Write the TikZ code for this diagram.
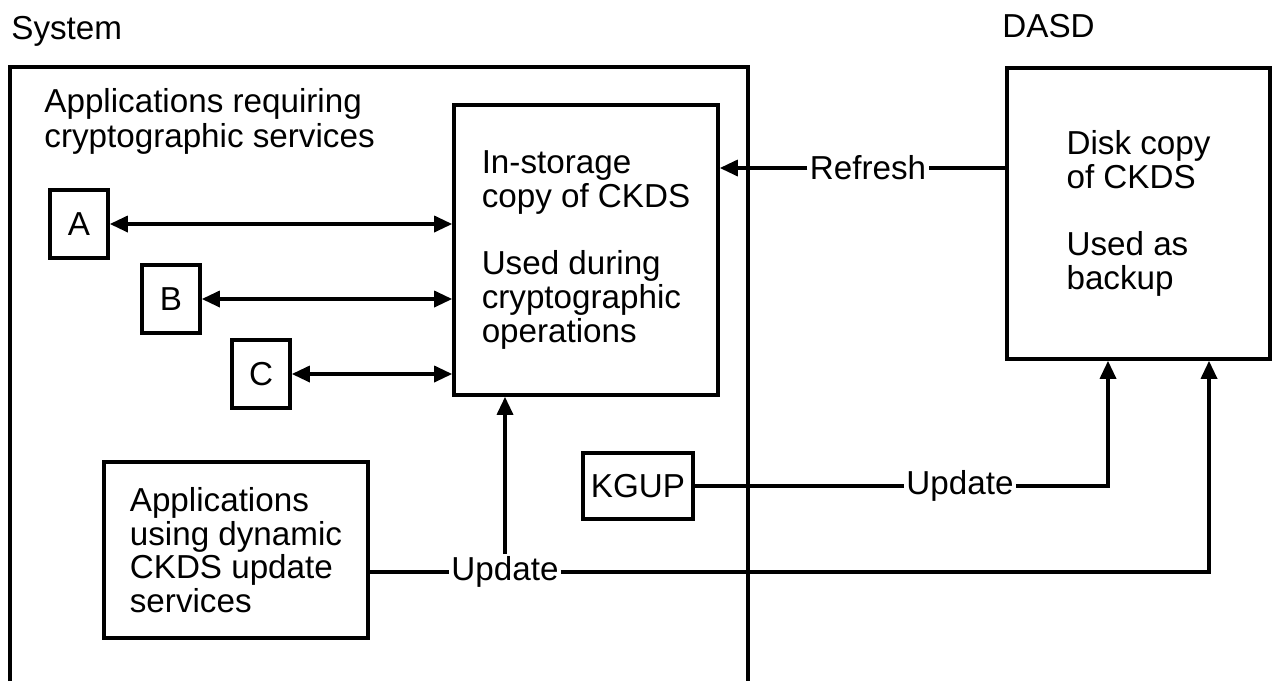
\documentclass[tikz,border=0pt]{standalone}
\usepackage{fontspec}
\setmainfont{Liberation Sans}
\usetikzlibrary{arrows.meta}
\begin{document}
\begin{tikzpicture}[x=0.5pt,y=-0.5pt,
  every node/.style={font=\fontsize{16.6pt}{16.8pt}\selectfont},
  boxed/.style={draw,line width=1.8pt,inner sep=0pt,align=left},
  conn/.style={line width=1.7pt},
  arr/.style={conn,-{Triangle[length=9pt,width=8pt]}},
  darr/.style={conn,{Triangle[length=9pt,width=8pt]}-{Triangle[length=9pt,width=8pt]}},
  lbl/.style={inner sep=1pt,fill=white}]
\useasboundingbox (0,0) rectangle (1272,681);
% titles
\node[anchor=base west,inner sep=0pt] (systitle) at (11,39) {System};
\node[anchor=base west,inner sep=0pt] (dasdtitle) at (1002,37) {DASD};
% system frame (open at bottom)
\draw[line width=1.8pt] (10,681) -- (10,67) -- (748,67) -- (748,681);
% header text
\node[anchor=base west,inner sep=0pt,align=left,font=\fontsize{16.6pt}{17.5pt}\selectfont] (hdr) at (44,147)
  {Applications requiring\\cryptographic services};
% application boxes
\node[boxed,minimum width=29pt,minimum height=34pt] (A) at (79,224) {A};
\node[boxed,minimum width=29pt,minimum height=34pt] (B) at (171,299) {B};
\node[boxed,minimum width=29pt,minimum height=34pt] (C) at (261,374) {C};
% in-storage CKDS
\node[boxed,minimum width=132pt,minimum height=145pt] (store) at (586,250)
  {In-storage\\copy of CKDS\\[17pt]Used during\\cryptographic\\operations};
% DASD copy
\node[boxed,minimum width=131.5pt,minimum height=145.5pt] (dasd) at (1138.5,213.5)
  {Disk copy\\of CKDS\\[17pt]Used as\\backup};
% KGUP
\node[boxed,minimum width=55pt,minimum height=33pt] (kgup) at (638,486) {KGUP};
% dynamic update apps
\node[boxed,minimum width=132pt,minimum height=88pt] (dyn) at (236,550)
  {Applications\\using dynamic\\CKDS update\\services};
% labels on connectors
\node[lbl] (rf) at (868,168) {Refresh};
\node[lbl] (u1) at (505,572) {Update};
\node[lbl] (u2) at (960,486) {Update};
\coordinate (c1) at (1108,486);
\coordinate (c2) at (1209,572);
% connectors
\draw[darr] (A.east) -- (A.east -| store.west);
\draw[darr] (B.east) -- (B.east -| store.west);
\draw[darr] (C.east) -- (C.east -| store.west);
\draw[conn] (dasd.west |- rf) -- (rf.east);
\draw[arr] (rf.west) -- (rf.west -| store.east);
\draw[conn] (kgup.east) -- (u2.west);
\draw[arr] (u2.east) -- (c1) -- (c1 |- dasd.south);
\draw[conn] (dyn.east |- u1) -- (u1.west);
\draw[arr] (u1.east) -- (c2) -- (c2 |- dasd.south);
\draw[arr] (u1.north) -- (u1.north |- store.south);
\end{tikzpicture}
\end{document}
